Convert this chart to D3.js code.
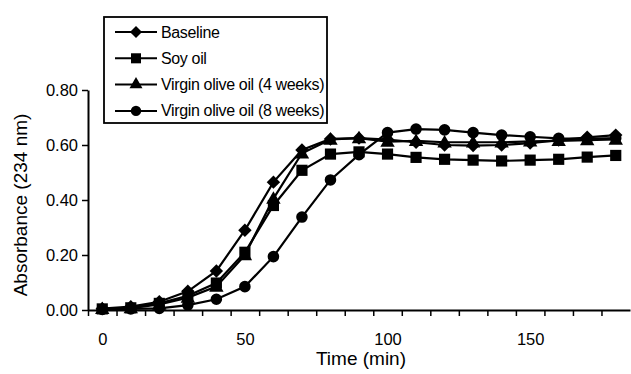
<!DOCTYPE html>
<html>
<head>
<meta charset="utf-8">
<script src="https://cdnjs.cloudflare.com/ajax/libs/d3/7.8.5/d3.min.js"></script>
<style>
  body { margin: 0; background: #fff; }
  svg { display: block; font-family: "Liberation Sans", Arial, sans-serif; }
</style>
</head>
<body>
<svg id="chart" width="631" height="374"></svg>
<script>
// time points (min)
var times = [0, 10, 20, 30, 40, 50, 60, 70, 80, 90, 100, 110, 120, 130, 140, 150, 160, 170, 180];

var baseline = [0.005, 0.012, 0.030, 0.068, 0.142, 0.290, 0.465, 0.582, 0.622, 0.625, 0.620, 0.610, 0.600, 0.598, 0.600, 0.607, 0.618, 0.628, 0.636];
var soyOil   = [0.004, 0.008, 0.024, 0.052, 0.098, 0.210, 0.380, 0.508, 0.567, 0.575, 0.567, 0.555, 0.548, 0.545, 0.542, 0.545, 0.548, 0.556, 0.562];
var olive4   = [0.004, 0.007, 0.020, 0.045, 0.085, 0.200, 0.405, 0.570, 0.620, 0.625, 0.612, 0.615, 0.610, 0.610, 0.610, 0.613, 0.615, 0.618, 0.620];
var olive8   = [0.002, 0.004, 0.006, 0.018, 0.039, 0.085, 0.194, 0.338, 0.473, 0.565, 0.645, 0.658, 0.655, 0.645, 0.636, 0.630, 0.624, 0.622, 0.625];

var seriesNames = ["Baseline", "Soy oil", "Virgin olive oil (4 weeks)", "Virgin olive oil (8 weeks)"];
var seriesShapes = ["diamond", "square", "triangle", "circle"];

var yTicks = [0, 0.2, 0.4, 0.6, 0.8];
var xLabels = [0, 50, 100, 150];
var xMinorTicks = [-5, 5, 15, 25, 35, 45, 55, 65, 75, 85, 95, 105, 115, 125, 135, 145, 155, 165, 175];

var svg = d3.select("#chart");

var x = d3.scaleLinear().domain([-5, 185]).range([88, 630]);
var y = d3.scaleLinear().domain([0, 0.8]).range([310, 90]);

// y axis
var yAxis = svg.append("g")
    .attr("transform", "translate(88,0)")
    .call(d3.axisLeft(y).tickValues(yTicks).tickFormat(d3.format(".2f")).tickSize(6).tickSizeOuter(0));
yAxis.select(".domain").attr("stroke-width", 2);
yAxis.selectAll(".tick line").attr("stroke-width", 1.5);
yAxis.selectAll("text").attr("font-size", "16.5px").attr("fill", "#000").attr("dx", "-1");

// x axis: ticks between points, labels without ticks
var xAxis = svg.append("g")
    .attr("transform", "translate(0,310)")
    .call(d3.axisBottom(x).tickValues(xMinorTicks).tickFormat("").tickSize(6).tickSizeOuter(0));
xAxis.select(".domain").attr("stroke-width", 2);
xAxis.selectAll(".tick line").attr("stroke-width", 1.5);

var xLab = svg.append("g")
    .attr("transform", "translate(0,310)")
    .call(d3.axisBottom(x).tickValues(xLabels).tickSize(0).tickPadding(23));
xLab.select(".domain").remove();
xLab.selectAll("text").attr("font-size", "16.5px").attr("fill", "#000");

// axis titles
svg.append("text")
    .attr("x", 361).attr("y", 365)
    .attr("text-anchor", "middle")
    .attr("font-size", "19px")
    .text("Time (min)");

svg.append("text")
    .attr("transform", "translate(27,205) rotate(-90)")
    .attr("text-anchor", "middle")
    .attr("font-size", "19px")
    .text("Absorbance (234 nm)");

function symbolFor(shape) {
  if (shape === "diamond") return d3.symbol().type(d3.symbolDiamond2).size(115)();
  if (shape === "square") return d3.symbol().type(d3.symbolSquare).size(125)();
  if (shape === "triangle") return d3.symbol().type(d3.symbolTriangle).size(90)();
  return d3.symbol().type(d3.symbolCircle).size(105)();
}

var allSeries = [baseline, soyOil, olive4, olive8];
var line = d3.line()
    .x(function (d, i) { return x(times[i]); })
    .y(function (d) { return y(d); });

// draw order so the baseline sits on top
var order = [1, 3, 2, 0];
order.forEach(function (k) {
  var vals = allSeries[k];
  svg.append("path")
      .datum(vals)
      .attr("d", line)
      .attr("fill", "none")
      .attr("stroke", "#000")
      .attr("stroke-width", 2.2);

  svg.selectAll(".pt" + k)
      .data(vals)
      .enter()
      .append("path")
      .attr("class", "pt" + k)
      .attr("d", symbolFor(seriesShapes[k]))
      .attr("transform", function (d, i) {
        var dy = seriesShapes[k] === "triangle" ? 1 : 0;
        return "translate(" + x(times[i]) + "," + (y(d) + dy) + ")";
      })
      .attr("fill", "#000");
});

// legend
var legend = svg.append("g");
legend.append("rect")
    .attr("x", 104).attr("y", 17)
    .attr("width", 223).attr("height", 106)
    .attr("fill", "#fff")
    .attr("stroke", "#000")
    .attr("stroke-width", 1.8);

seriesNames.forEach(function (name, k) {
  var cy = 32 + k * 26.3;
  legend.append("line")
      .attr("x1", 115).attr("x2", 157)
      .attr("y1", cy).attr("y2", cy)
      .attr("stroke", "#000").attr("stroke-width", 2);
  legend.append("path")
      .attr("d", symbolFor(seriesShapes[k]))
      .attr("transform", "translate(136," + cy + ") scale(0.9)")
      .attr("fill", "#000");
  legend.append("text")
      .attr("x", 161).attr("y", cy + 5.5)
      .attr("font-size", "16px")
      .attr("letter-spacing", "-0.35")
      .text(name);
});
</script>
</body>
</html>
